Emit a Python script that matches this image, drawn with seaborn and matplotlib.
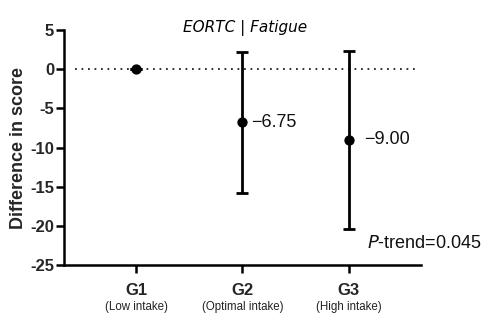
import matplotlib
matplotlib.use("Agg")
import matplotlib.pyplot as plt
import seaborn as sns
import pandas as pd

groups = ["G1", "G2", "G3"]
group_notes = ["(Low intake)", "(Optimal intake)", "(High intake)"]
diff = [0.0, -6.75, -9.00]
ci_low = [0.0, -15.75, -20.4]
ci_high = [0.0, 2.2, 2.35]
value_labels = ["", "\u22126.75", "\u22129.00"]
y_ticks = [5, 0, -5, -10, -15, -20, -25]
p_trend = "0.045"

sns.set_theme(style="ticks")
plt.rcParams["font.family"] = ["Liberation Sans", "DejaVu Sans"]

df = pd.DataFrame({"group": groups, "diff": diff, "lo": ci_low, "hi": ci_high})
df["x"] = range(len(groups))

fig = plt.figure(figsize=(4.9, 3.32), dpi=100)
ax = fig.add_axes([0.1306, 0.2018, 0.7284, 0.7078])

ax.axhline(0, xmin=0.03, xmax=0.985, color="#222222", lw=1.3, ls=(0, (1, 2.6)), zorder=1)

ax.errorbar(df["x"], df["diff"],
            yerr=[df["diff"] - df["lo"], df["hi"] - df["diff"]],
            fmt="none", ecolor="black", elinewidth=2, capsize=4, capthick=2, zorder=2)
sns.scatterplot(data=df, x="x", y="diff", ax=ax, color="black", s=55,
                edgecolor="black", linewidth=0, zorder=3, legend=False)

offsets = [0.0, 0.08, 0.14]
for xi, yi, lab, off in zip(df["x"], df["diff"], value_labels, offsets):
    if lab:
        ax.text(xi + off, yi, lab, fontsize=13, va="center", ha="left", color="#111111")

ax.text(2.17, -22.3, "$P$-trend=" + p_trend, fontsize=13, va="center", ha="left", color="#111111")

ax.set_xlim(-0.676, 2.676)
ax.set_ylim(-25, 5)
ax.set_yticks(y_ticks)
ax.set_yticklabels([str(t) for t in y_ticks], fontsize=12, fontweight="bold")
ax.set_xticks(df["x"])
ax.set_xticklabels([])
for xi, g, note in zip(df["x"], groups, group_notes):
    ax.text(xi, -27.3, g, fontsize=12, fontweight="bold", ha="center", va="top")
    ax.text(xi, -29.6, note, fontsize=8.3, ha="center", va="top", color="#222222")

ax.set_xlabel("")
ax.set_ylabel("Difference in score", fontsize=13, fontweight="bold", labelpad=2)

for s in ["top", "right"]:
    ax.spines[s].set_visible(False)
for s in ["left", "bottom"]:
    ax.spines[s].set_linewidth(1.8)
    ax.spines[s].set_color("black")
ax.tick_params(axis="both", width=1.8, length=6, color="black", pad=1)

fig.text(0.5, 0.915, "EORTC | Fatigue", ha="center", va="center", fontsize=11,
         fontstyle="italic", family=["DejaVu Sans"], fontweight="light", color="black")

fig.savefig("out.png", dpi=100)
